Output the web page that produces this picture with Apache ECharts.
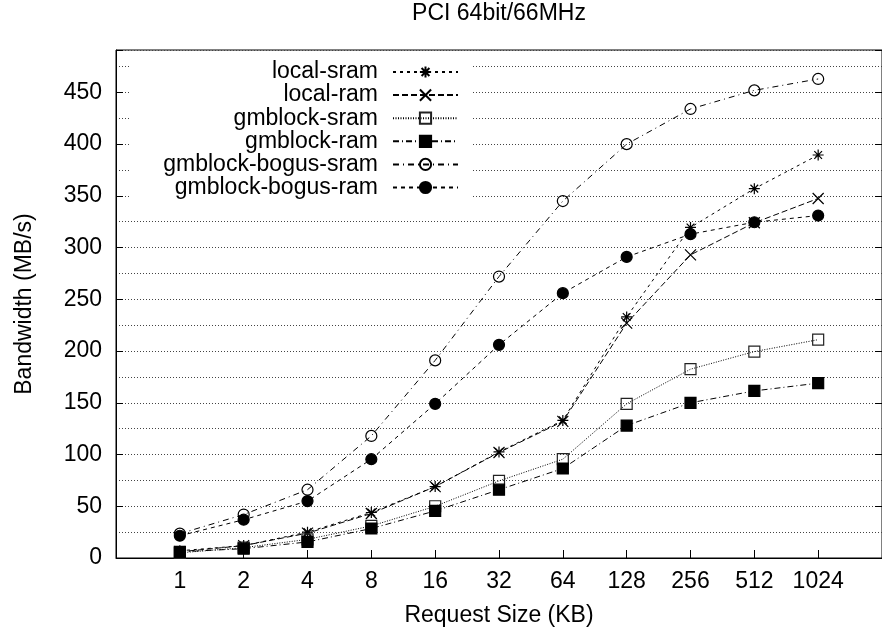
<!DOCTYPE html>
<html>
<head>
<meta charset="utf-8">
<title>PCI 64bit/66MHz</title>
<script src="https://cdn.jsdelivr.net/npm/echarts@6/dist/echarts.min.js"></script>
<style>
  html, body { margin: 0; padding: 0; background: #fff; }
  #chart { width: 882px; height: 629px; }
</style>
</head>
<body>
<div id="chart"></div>
<script>
// Request sizes (KB) on the x axis, one category per point
const sizes = ['1', '2', '4', '8', '16', '32', '64', '128', '256', '512', '1024'];

// Bandwidth in MB/s
const localSram   = [7, 12, 25, 44, 69, 102.5, 133, 233, 319.5, 357, 389.5];
const localRam    = [6, 12, 24, 43, 69, 102, 132, 227, 293, 324, 347.5];
const gmblockSram = [5, 10, 18, 31, 50, 74.5, 95.5, 149, 182.5, 199.5, 211];
const gmblockRam  = [6, 9, 15.5, 28.5, 45.5, 66, 86.5, 128, 150, 161.5, 169];
const bogusSram   = [23.5, 42, 66, 118, 191, 272, 345, 400, 434, 452, 463];
const bogusRam    = [21.5, 37, 55, 95.5, 149, 206, 256, 291, 313, 324.5, 331];

const FONT = 'Liberation Sans';
const ASTERISK = 'path://M0,5L10,5M5,0L5,10M1.5,1.5L8.5,8.5M8.5,1.5L1.5,8.5';
const CROSS = 'path://M0,0L10,10M10,0L0,10';

function pts(values) {
  return values.map((v, i) => [i, v]);
}

function lineSeries(name, values, symbol, dash, item) {
  return {
    name: name,
    type: 'line',
    data: pts(values),
    symbol: symbol,
    symbolSize: 11,
    showAllSymbol: true,
    lineStyle: { color: '#000', width: 1, type: dash },
    itemStyle: Object.assign({ color: '#000', borderColor: '#000', borderWidth: 1.2 }, item || {}),
    emphasis: { disabled: true }
  };
}

let chart = echarts.init(document.getElementById('chart'), null, { renderer: 'canvas' });

chart.setOption({
  animation: false,
  backgroundColor: '#fff',
  title: {
    text: 'PCI 64bit/66MHz',
    left: 499,
    textAlign: 'center',
    top: 2,
    padding: 0,
    textStyle: { fontFamily: FONT, fontSize: 23, fontWeight: 'normal', color: '#000' }
  },
  grid: {
    left: 116, top: 50, width: 766, bottom: 71,
    outerBoundsMode: 'none',
    containLabel: false,
    show: true, borderColor: '#000', borderWidth: 1
  },
  legend: {
    orient: 'vertical',
    left: 130,
    top: 52.5,
    align: 'right',
    itemWidth: 65,
    itemHeight: 14,
    itemGap: 0.1,
    padding: [8, 14, 3, 0],
    backgroundColor: '#fff',
    textStyle: {
      fontFamily: FONT, fontSize: 23, color: '#000',
      width: 248, align: 'right', lineHeight: 23, padding: [0, 10, 0, 0]
    }
  },
  xAxis: {
    type: 'value',
    min: -1, max: 11, interval: 1,
    name: 'Request Size (KB)',
    nameLocation: 'middle',
    nameGap: 46,
    nameTextStyle: { fontFamily: FONT, fontSize: 23, color: '#000' },
    axisLine: { show: true, onZero: false, lineStyle: { color: '#000', width: 1 } },
    axisTick: { show: true, inside: true, length: 8, lineStyle: { color: '#000' } },
    axisLabel: {
      fontFamily: FONT, fontSize: 23, color: '#000', margin: 12,
      formatter: v => sizes[v] !== undefined ? sizes[v] : ''
    },
    splitLine: { show: false }
  },
  yAxis: [
    {
      type: 'value',
      min: 0, max: 491, interval: 25,
      name: 'Bandwidth (MB/s)',
      nameLocation: 'middle',
      nameRotate: 90,
      nameGap: 80,
      nameTextStyle: { fontFamily: FONT, fontSize: 23, color: '#000' },
      axisLine: { show: true, onZero: false, lineStyle: { color: '#000', width: 1 } },
      axisTick: { show: false },
      axisLabel: {
        fontFamily: FONT, fontSize: 23, color: '#000', margin: 14,
        formatter: v => v % 50 === 0 ? String(v) : ''
      },
      splitLine: { show: true, lineStyle: { color: '#444', width: 1, type: [1, 2] } }
    },
    {
      // major ticks on the left border
      type: 'value', position: 'left',
      min: 0, max: 491, interval: 50,
      axisLine: { show: false, onZero: false },
      axisTick: { show: true, inside: true, length: 7, lineStyle: { color: '#000' } },
      axisLabel: { show: false },
      splitLine: { show: false }
    },
    {
      // mirrored ticks on the right border
      type: 'value', position: 'right',
      min: 0, max: 491, interval: 50,
      axisLine: { show: true, onZero: false, lineStyle: { color: '#000' } },
      axisTick: { show: true, inside: true, length: 7, lineStyle: { color: '#000' } },
      axisLabel: { show: false },
      splitLine: { show: false }
    }
  ],
  series: [
    lineSeries('local-sram', localSram, ASTERISK, [3, 4]),
    lineSeries('local-ram', localRam, CROSS, [6, 3]),
    lineSeries('gmblock-sram', gmblockSram, 'rect', [1, 1.5], { color: 'transparent', borderColor: '#222' }),
    lineSeries('gmblock-ram', gmblockRam, 'rect', [6, 3, 1, 3]),
    lineSeries('gmblock-bogus-sram', bogusSram, 'circle', [6, 4, 1, 4], { color: 'transparent' }),
    lineSeries('gmblock-bogus-ram', bogusRam, 'circle', [4, 4])
  ]
});
</script>
</body>
</html>
